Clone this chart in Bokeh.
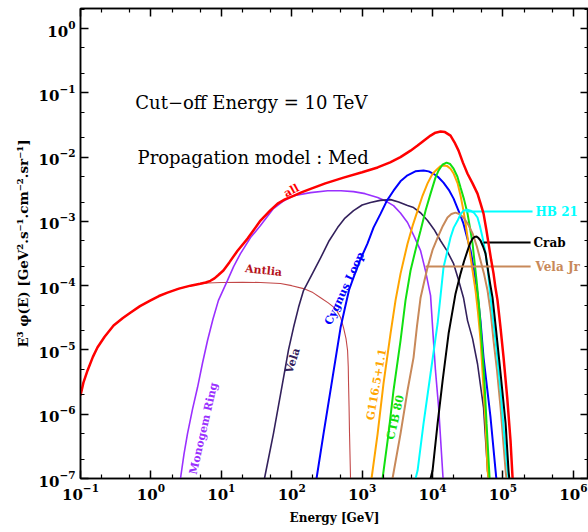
from bokeh.plotting import figure
from bokeh.models import Range1d, FixedTicker, LogTickFormatter, LogAxis, Label, CustomJSTickFormatter
from bokeh.embed import file_html
from bokeh.resources import INLINE

# Energies in GeV, spectra as E^3 phi(E) in GeV^2 s^-1 cm^-2 sr^-1
all_E = [0.1, 0.11, 0.126, 0.15, 0.174, 0.22, 0.295, 0.4, 0.51, 0.7, 0.99, 1.3, 1.72, 2.5, 3.65,
         5.0, 6.0, 7.0, 8.0, 9.0, 10.7, 13, 17, 23.6, 36, 50, 63, 80, 106, 140, 185, 300, 545,
         1000, 1660, 2500, 3500, 4870, 6130, 7500, 9370, 11000, 13000, 15000, 18000, 20500,
         23400, 27000, 31400, 37000, 43500, 48000, 53000, 58000, 62400, 68000, 73500, 78000,
         83700, 92000, 1.02e5, 1.15e5, 1.28e5, 1.37e5]
all_F = [1.95e-6, 3.1e-6, 4.8e-6, 7.8e-6, 1.09e-5, 1.6e-5, 2.4e-5, 3.15e-5, 3.8e-5, 4.8e-5,
         5.9e-5, 6.9e-5, 7.8e-5, 9.0e-5, 1.0e-4, 1.07e-4, 1.12e-4, 1.19e-4, 1.3e-4, 1.45e-4,
         1.72e-4, 2.3e-4, 3.5e-4, 5.4e-4, 1.03e-3, 1.5e-3, 1.89e-3, 2.2e-3, 2.5e-3, 2.85e-3,
         3.2e-3, 3.9e-3, 4.8e-3, 5.8e-3, 6.9e-3, 8.3e-3, 1.0e-2, 1.26e-2, 1.51e-2, 1.8e-2,
         2.16e-2, 2.4e-2, 2.5e-2, 2.45e-2, 2.16e-2, 1.7e-2, 1.26e-2, 8.2e-3, 5.5e-3, 3.9e-3,
         2.7e-3, 1.9e-3, 1.32e-3, 7.5e-4, 4.5e-4, 2.5e-4, 1.54e-4, 9.5e-5, 5.9e-5, 2.3e-5,
         7.6e-6, 1.8e-6, 3.9e-7, 1.0e-7]

antlia_E = [0.1, 0.11, 0.126, 0.15, 0.174, 0.22, 0.295, 0.4, 0.51, 0.7, 0.99, 1.3, 1.72, 2.5,
            3.65, 5.0, 6.4, 10, 20, 36, 69, 100, 147, 200, 257, 330, 419, 494, 545, 590, 621,
            635, 641, 652, 662, 684]
antlia_F = [1.95e-6, 3.1e-6, 4.8e-6, 7.8e-6, 1.09e-5, 1.6e-5, 2.4e-5, 3.15e-5, 3.8e-5, 4.8e-5,
            5.9e-5, 6.9e-5, 7.8e-5, 9.0e-5, 1.0e-4, 1.06e-4, 1.1e-4, 1.12e-4, 1.13e-4, 1.12e-4,
            1.08e-4, 1.0e-4, 9.0e-5, 7.8e-5, 6.5e-5, 5.4e-5, 4.4e-5, 3.2e-5, 2.2e-5, 1.5e-5,
            9.8e-6, 5.5e-6, 3.0e-6, 1.3e-6, 5.0e-7, 1.0e-7]

monogem_E = [2.63, 2.95, 3.31, 3.9, 4.59, 5.4, 6.37, 7.6, 9.1, 12.2, 15, 18.7, 26, 36, 55, 75,
             106, 185, 323, 500, 755, 1100, 1660, 2200, 2790, 3500, 4410, 5500, 6760, 7940,
             9370, 10300, 11000, 12200, 14100]
monogem_F = [1.0e-7, 2.4e-7, 5.0e-7, 1.2e-6, 2.6e-6, 6.2e-6, 1.4e-5, 3.0e-5, 5.9e-5, 1.2e-4,
             2.0e-4, 3.15e-4, 5.6e-4, 8.6e-4, 1.58e-3, 2.05e-3, 2.5e-3, 2.8e-3, 3.0e-3, 3.0e-3,
             2.9e-3, 2.7e-3, 2.35e-3, 2.05e-3, 1.76e-3, 1.35e-3, 9.6e-4, 5.8e-4, 3.5e-4, 1.7e-4,
             7.0e-5, 1.4e-5, 4.8e-6, 1.27e-6, 1.0e-7]

vela_E = [41, 55, 76.5, 90, 106, 125, 147, 200, 257, 340, 448, 560, 755, 1000, 1316, 1800, 2530,
          3300, 4410, 5370, 6800, 8490, 10500, 13000, 16000, 19900, 23000, 27500, 31400, 37000,
          43500, 53000, 60400, 62400]
vela_F = [1.0e-7, 5.0e-7, 3.7e-6, 1.0e-5, 2.23e-5, 4.6e-5, 8.4e-5, 1.6e-4, 2.7e-4, 5.0e-4,
          8.0e-4, 1.1e-3, 1.47e-3, 1.8e-3, 1.96e-3, 2.12e-3, 2.18e-3, 2.0e-3, 1.76e-3, 1.64e-3,
          1.35e-3, 1.03e-3, 7.5e-4, 5.0e-4, 3.5e-4, 2.2e-4, 1.3e-4, 6.5e-5, 2.86e-5, 1.5e-5,
          6.1e-6, 1.27e-6, 1.33e-7, 1.0e-7]

cygnus_E = [225, 283, 380, 494, 580, 650, 755, 950, 1190, 1450, 1830, 2250, 2790, 3500, 4410,
            5700, 7450, 8800, 10300, 12000, 14300, 17000, 19900, 23500, 27500, 34700, 39000,
            43500, 48000, 53000, 66600, 78500, 80500]
cygnus_F = [1.0e-7, 5.0e-7, 3.7e-6, 2.23e-5, 4.9e-5, 8.5e-5, 1.34e-4, 2.6e-4, 4.5e-4, 8.0e-4,
            1.32e-3, 2.1e-3, 3.0e-3, 4.2e-3, 5.2e-3, 6.0e-3, 6.2e-3, 6.0e-3, 5.5e-3, 4.9e-3,
            4.0e-3, 3.1e-3, 2.26e-3, 1.45e-3, 9.2e-4, 3.5e-4, 1.7e-4, 7.5e-5, 2.8e-5, 7.6e-6,
            8.9e-7, 1.33e-7, 1.0e-7]

g116_E = [1360, 1660, 2010, 2530, 2980, 3510, 4410, 5200, 6130, 7200, 8490, 10000, 11800,
          12900, 14300, 16000, 18000, 20000, 22700, 25000, 27500, 30000, 32400, 37000, 40800,
          44000, 48100, 52000, 56600, 60400, 62400]
g116_F = [1.0e-7, 5.0e-7, 3.0e-6, 1.8e-5, 5.9e-5, 1.54e-4, 4.5e-4, 8.5e-4, 1.47e-3, 2.5e-3,
          3.9e-3, 5.5e-3, 6.6e-3, 7.2e-3, 7.4e-3, 7.3e-3, 6.6e-3, 5.5e-3, 3.9e-3, 2.5e-3,
          1.47e-3, 8.0e-4, 4.5e-4, 1.72e-4, 8.4e-5, 4.0e-5, 1.4e-5, 3.5e-6, 7.2e-7, 1.33e-7,
          1.0e-7]

ctb80_E = [1950, 2370, 2790, 3510, 4130, 4870, 5800, 6760, 8000, 9370, 11000, 12200, 13800,
           15800, 17800, 19900, 22500, 25000, 28000, 31400, 34000, 37000, 42200, 46000, 49700,
           54000, 58500, 64600]
ctb80_F = [1.0e-7, 5.0e-7, 2.34e-6, 1.4e-5, 5.9e-5, 1.72e-4, 3.8e-4, 7.2e-4, 1.5e-3, 2.7e-3,
           4.8e-3, 6.2e-3, 7.6e-3, 8.2e-3, 7.8e-3, 6.6e-3, 5.0e-3, 3.36e-3, 2.2e-3, 1.32e-3,
           8.0e-4, 4.5e-4, 1.2e-4, 4.5e-5, 1.4e-5, 4.0e-6, 7.2e-7, 1.0e-7]

velajr_E = [2700, 3510, 4410, 5370, 6000, 6760, 7600, 8490, 10000, 11800, 14000, 16300, 18500,
            21200, 24000, 27500, 32000, 37000, 42500, 48100, 54000, 60400, 67000, 73500,
            82000, 92500, 1.09e5, 1.12e5]
velajr_F = [1.0e-7, 5.0e-7, 2.34e-6, 7.6e-6, 2.3e-5, 6.5e-5, 1.15e-4, 1.91e-4, 3.6e-4,
            5.6e-4, 8.5e-4, 1.15e-3, 1.3e-3, 1.37e-3, 1.3e-3, 1.15e-3, 9.0e-4, 6.5e-4, 4.1e-4,
            2.45e-4, 1.5e-4, 8.4e-5, 3.8e-5, 1.4e-5, 5.0e-6, 1.27e-6, 1.33e-7, 1.0e-7]

hb21_E = [5740, 6130, 7450, 9370, 11800, 13000, 14300, 18000, 20000, 22700, 25000, 27500,
          31000, 34700, 39000, 43500, 47000, 51300, 56000, 60400, 66600, 73500, 82000, 92500,
          1.03e5, 1.16e5, 1.2e5]
hb21_F = [1.0e-7, 1.33e-7, 7.2e-7, 4.3e-6, 2.58e-5, 7.0e-5, 1.91e-4, 5.6e-4, 8.0e-4, 1.03e-3,
          1.3e-3, 1.47e-3, 1.52e-3, 1.47e-3, 1.35e-3, 1.15e-3, 8.5e-4, 5.6e-4, 3.4e-4, 1.91e-4,
          6.5e-5, 2.58e-5, 9.0e-6, 2.34e-6, 5.5e-7, 1.33e-7, 1.0e-7]

crab_E = [9370, 10000, 11800, 13900, 16900, 21200, 25000, 28000, 31400, 34000, 37000, 39500,
          42200, 45000, 48100, 52000, 56600, 59000, 62400, 66000, 71100, 80000, 92500, 1.09e5,
          1.2e5, 1.23e5]
crab_F = [1.0e-7, 1.33e-7, 7.2e-7, 3.34e-6, 1.8e-5, 7.5e-5, 1.54e-4, 2.4e-4, 3.5e-4, 4.5e-4,
          5.4e-4, 5.7e-4, 5.8e-4, 5.5e-4, 5.0e-4, 4.1e-4, 3.15e-4, 2.3e-4, 1.54e-4, 1.05e-4,
          6.5e-5, 2.0e-5, 4.3e-6, 7.2e-7, 1.33e-7, 1.0e-7]

# Leader lines to the source names at the right edge: energies and level
hb21_leader = ([29400, 2.63e5], [1.42e-3, 1.42e-3])
crab_leader = ([53000, 2.47e5], [4.68e-4, 4.68e-4])
velajr_leader = ([7950, 2.47e5], [1.98e-4, 1.98e-4])

decades = [1e-7, 1e-6, 1e-5, 1e-4, 1e-3, 1e-2, 1e-1, 1e0, 1e1, 1e2, 1e3, 1e4, 1e5, 1e6]

SERIF = "DejaVu Serif"

p = figure(width=588, height=532, x_axis_type="log", y_axis_type="log",
           x_range=Range1d(0.1, 1.64e6), y_range=Range1d(1e-7, 2.05),
           output_backend="svg", toolbar_location=None,
           min_border_left=80, min_border_right=0, min_border_top=8, min_border_bottom=54)
p.background_fill_color = "white"
p.border_fill_color = "white"
p.outline_line_color = "black"
p.outline_line_width = 1.5
p.xgrid.visible = False
p.ygrid.visible = False

minor = [m * d for d in decades for m in (2, 5)]
ticker = FixedTicker(ticks=decades, minor_ticks=minor)


def style_axis(ax, show_labels):
    ax.ticker = ticker
    ax.axis_line_color = "black"
    ax.axis_line_width = 1.5
    ax.major_tick_line_color = "black"
    ax.minor_tick_line_color = "black"
    ax.major_tick_line_width = 1.5
    ax.minor_tick_line_width = 1.2
    ax.major_tick_in = 8
    ax.major_tick_out = 0
    ax.minor_tick_in = 4
    ax.minor_tick_out = 0
    if show_labels:
        ax.formatter = LogTickFormatter()
        ax.major_label_text_font = SERIF
        ax.major_label_text_font_style = "bold"
        ax.major_label_text_font_size = "15px"
        ax.major_label_text_color = "black"
    else:
        ax.formatter = CustomJSTickFormatter(code="return '';")
        ax.major_label_text_font_size = "1px"
        ax.major_label_standoff = 0


style_axis(p.xaxis[0], True)
style_axis(p.yaxis[0], True)
p.xaxis[0].major_label_standoff = 5
p.yaxis[0].major_label_standoff = 5

p.xaxis[0].axis_label = "Energy [GeV]"
p.yaxis[0].axis_label = "E³ φ(E) [GeV².s⁻¹.cm⁻².sr⁻¹]"
for ax in (p.xaxis[0], p.yaxis[0]):
    ax.axis_label_text_font = SERIF
    ax.axis_label_text_font_style = "bold"
    ax.axis_label_text_color = "black"
p.xaxis[0].axis_label_text_font_size = "12px"
p.xaxis[0].axis_label_standoff = 8
p.yaxis[0].axis_label_text_font_size = "13.5px"
p.yaxis[0].axis_label_standoff = 5

top_axis = LogAxis()
right_axis = LogAxis()
style_axis(top_axis, False)
style_axis(right_axis, False)
p.add_layout(top_axis, "above")
p.add_layout(right_axis, "right")

# Individual source spectra
p.line(antlia_E, antlia_F, line_color="#c24848", line_width=1.1)
p.line(monogem_E, monogem_F, line_color="#9a30ff", line_width=1.6)
p.line(vela_E, vela_F, line_color="#33215c", line_width=1.6)
p.line(cygnus_E, cygnus_F, line_color="#0000ff", line_width=2)
p.line(g116_E, g116_F, line_color="#ffa500", line_width=2)
p.line(ctb80_E, ctb80_F, line_color="#11e011", line_width=2)
p.line(velajr_E, velajr_F, line_color="#c8895a", line_width=2)
p.line(hb21_E, hb21_F, line_color="#00ffff", line_width=2)
p.line(crab_E, crab_F, line_color="black", line_width=2)

# Leader lines
p.line(*hb21_leader, line_color="#00ffff", line_width=2)
p.line(*crab_leader, line_color="black", line_width=2)
p.line(*velajr_leader, line_color="#c8895a", line_width=2)

# Total of all sources
p.line(all_E, all_F, line_color="#ff0000", line_width=2.5)


def add_text(x, y, text, color, size="11px", angle=0.0, align="center", style="bold"):
    p.add_layout(Label(x=x, y=y, text=text, text_color=color, text_font=SERIF,
                       text_font_size=size, text_font_style=style, angle=angle,
                       angle_units="deg", text_align=align, text_baseline="middle"))


add_text(0.60, 0.0705, "Cut−off Energy = 10 TeV", "black", size="18px", align="left",
         style="normal")
add_text(0.646, 9.8e-3, "Propagation model : Med", "black", size="18px", align="left",
         style="normal")

add_text(99, 3.0e-3, "all", "#ff0000", angle=28)
add_text(39.8, 1.72e-4, "Antlia", "#b5121b", angle=-6)
add_text(5.6, 6.0e-7, "Monogem Ring", "#9a30ff", angle=77)
add_text(103, 6.8e-6, "Vela", "#33215c", angle=72)
add_text(562, 9.0e-5, "Cygnus Loop", "#0000ff", angle=65)
add_text(1600, 2.9e-6, "G116.5+1.1", "#ffa500", angle=80)
add_text(2980, 8.9e-7, "CTB 80", "#11e011", angle=77)
add_text(2.9e5, 1.42e-3, "HB 21", "#00ffff", size="12px", align="left")
add_text(2.72e5, 4.68e-4, "Crab", "black", size="12px", align="left")
add_text(2.9e5, 1.98e-4, "Vela Jr", "#c8895a", size="12px", align="left")

open("out.html", "w").write(file_html(p, INLINE))
